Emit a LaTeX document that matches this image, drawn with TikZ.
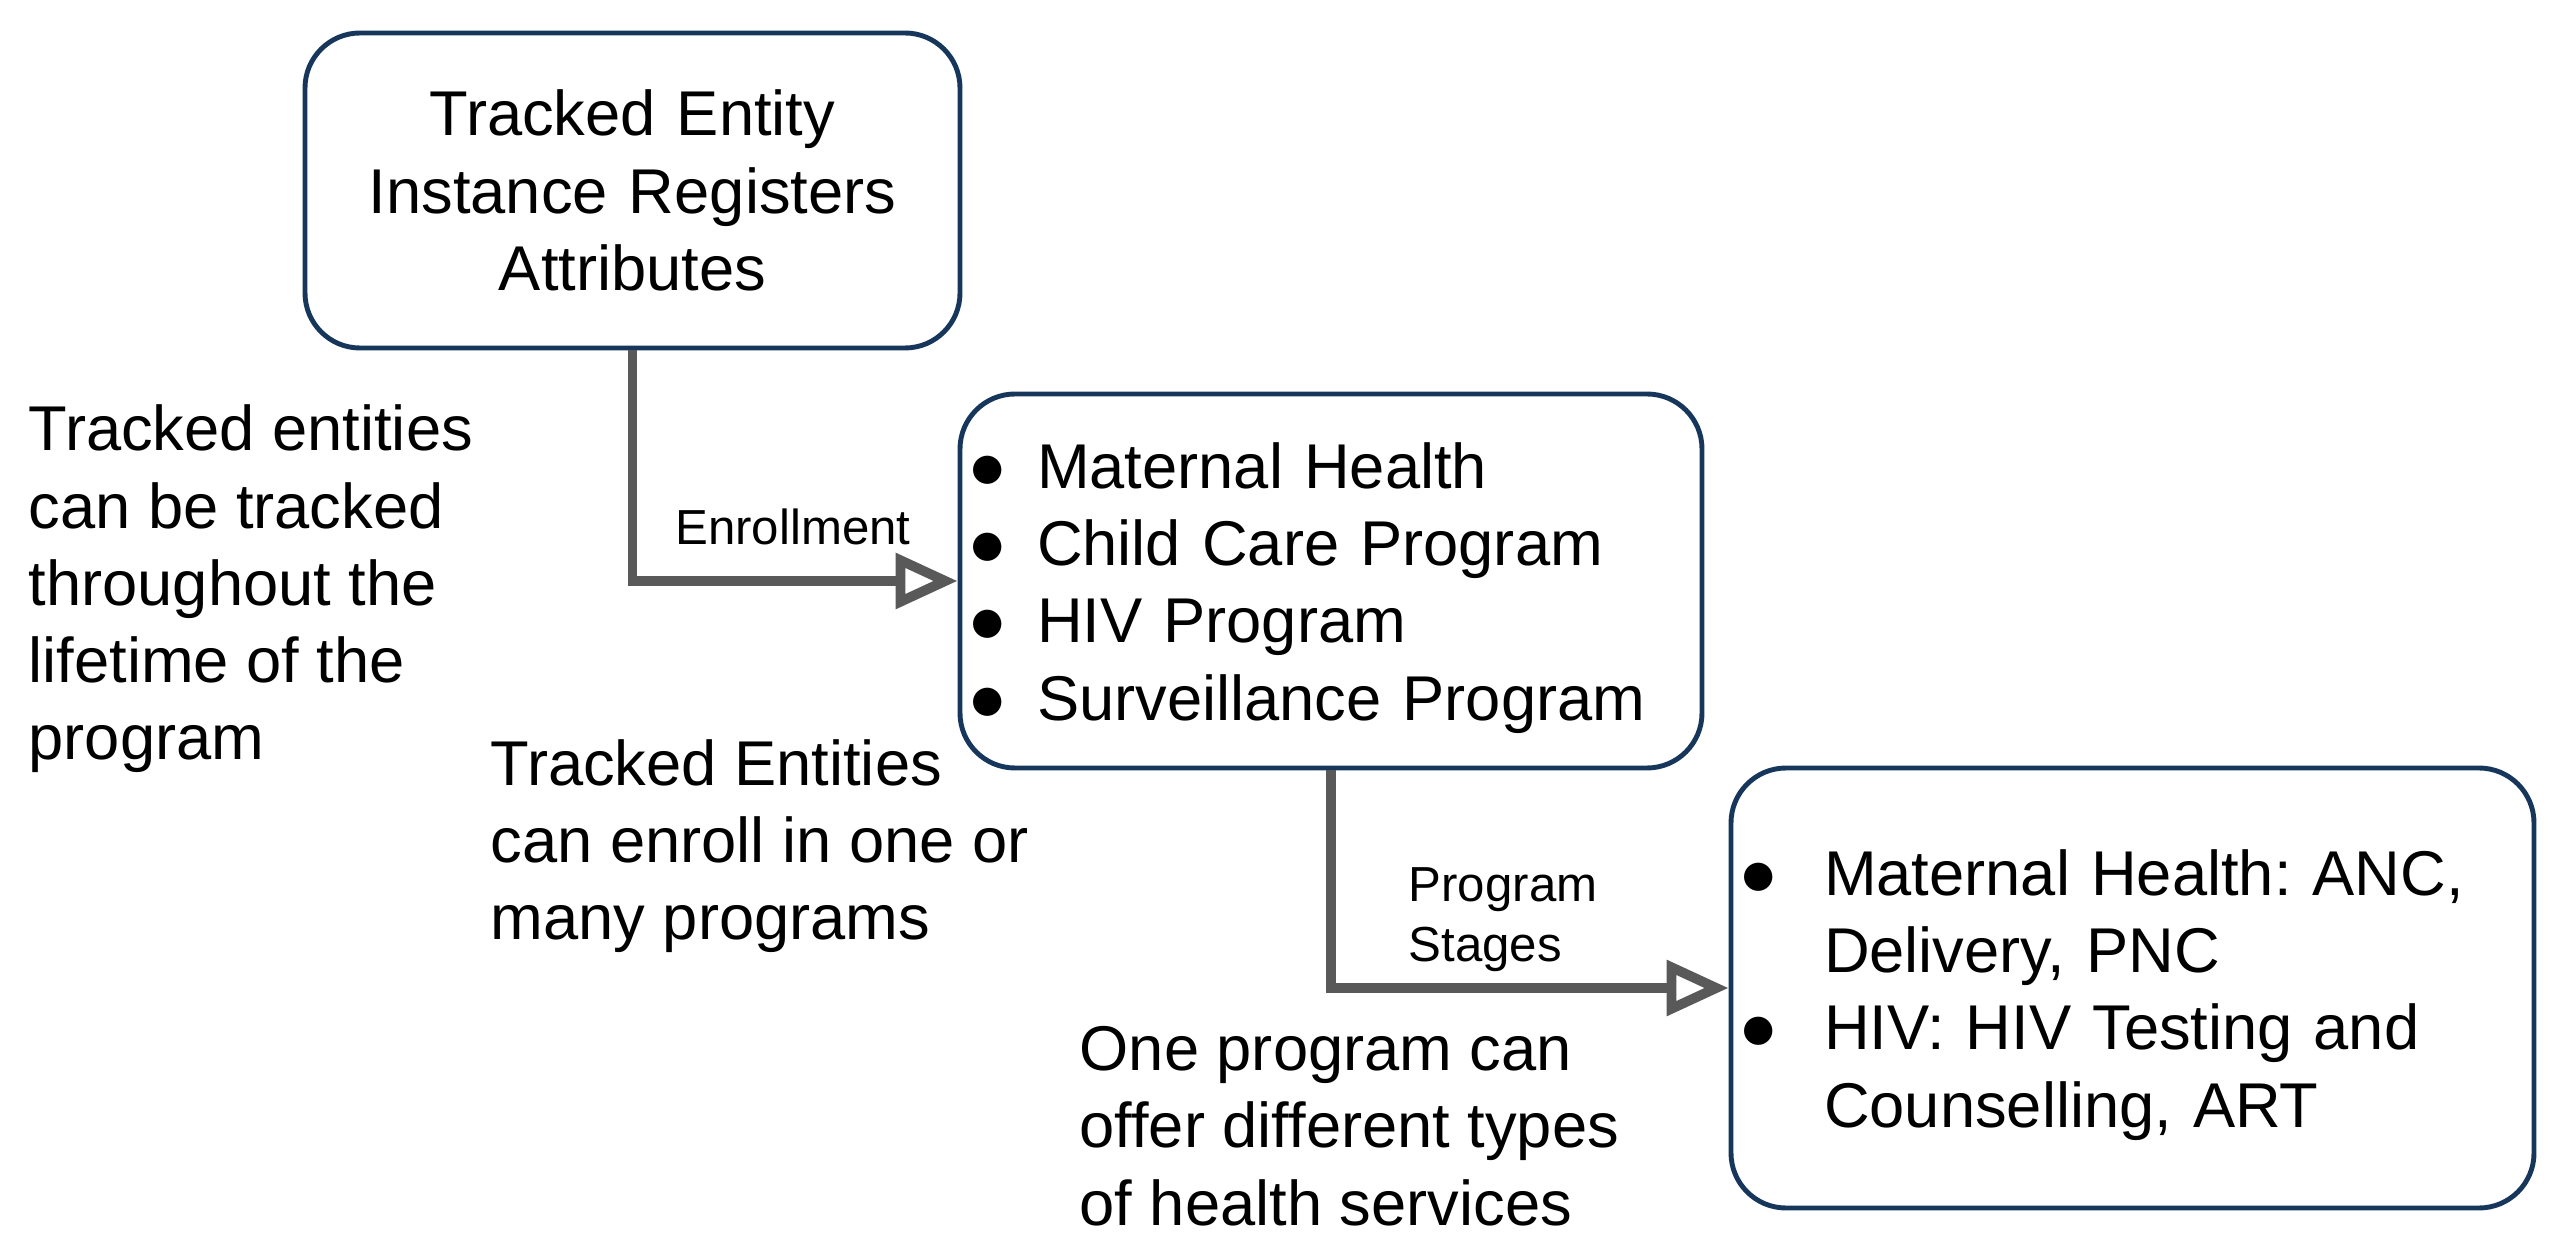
\documentclass[tikz,border=0pt]{standalone}
\usepackage{fontspec}
\setmainfont{Liberation Sans}
\usepackage{tikz}
\usetikzlibrary{arrows.meta}
\definecolor{boxblue}{RGB}{22,54,92}
\definecolor{linegray}{RGB}{89,89,89}
\newcommand{\bitem}[2][0.6cm]{\makebox[#1][l]{\hspace*{-0.08cm}\fontsize{21}{22}\selectfont$\bullet$}#2}
\frenchspacing

\begin{document}
\begin{tikzpicture}[
    box/.style={draw=boxblue, line width=1.4pt, rounded corners=0.55cm, inner xsep=0.17cm, inner ysep=0pt, font=\fontsize{18}{22}\selectfont},
    note/.style={anchor=west, align=left, inner sep=0pt, font=\fontsize{18}{22}\selectfont},
    small/.style={align=left, inner sep=0pt, font=\fontsize{14}{17}\selectfont},
    link/.style={linegray, line width=2.8pt, -{Triangle[open, length=0.62cm, width=0.54cm]}}]
    \useasboundingbox (0,0) rectangle (25.6,-12.45);
    \node [box, text width=6.21cm, minimum height=3.15cm, align=center] (tei) at (6.325,-1.905) {Tracked Entity\\Instance Registers\\Attributes};
    \node [box, text width=7.08cm, minimum height=3.74cm, align=left] (programs) at (13.31,-5.81) {\rule{0pt}{17pt}\bitem{Maternal Health}\\\bitem{Child Care Program}\\\bitem{HIV Program}\\\bitem{Surveillance Program}};
    \node [box, text width=7.69cm, minimum height=4.40cm, align=left] (services) at (21.325,-9.88) {\rule{0pt}{17pt}\bitem[0.76cm]{Maternal Health: ANC,}\\\hspace*{0.76cm}Delivery, PNC\\\bitem[0.76cm]{HIV: HIV Testing and}\\\hspace*{0.76cm}Counselling, ART};
    \draw [link] (tei.south) |- (programs.west);
    \draw [link] (programs.south) |- (services.west);
    \node [small] (enroll) at (7.93,-5.27) {Enrollment};
    \node [small, anchor=west] (stages) at (14.08,-9.20) {Program\\Stages};
    \node [note] (lifetime) at (0.28,-5.89) {Tracked entities\\can be tracked\\throughout the\\lifetime of the\\program};
    \node [note] (enrollnote) at (4.90,-8.46) {Tracked Entities\\can enroll in one or\\many programs};
    \node [note] (servicenote) at (10.79,-11.26) {One program can\\offer different types\\of health services};
\end{tikzpicture}
\end{document}
